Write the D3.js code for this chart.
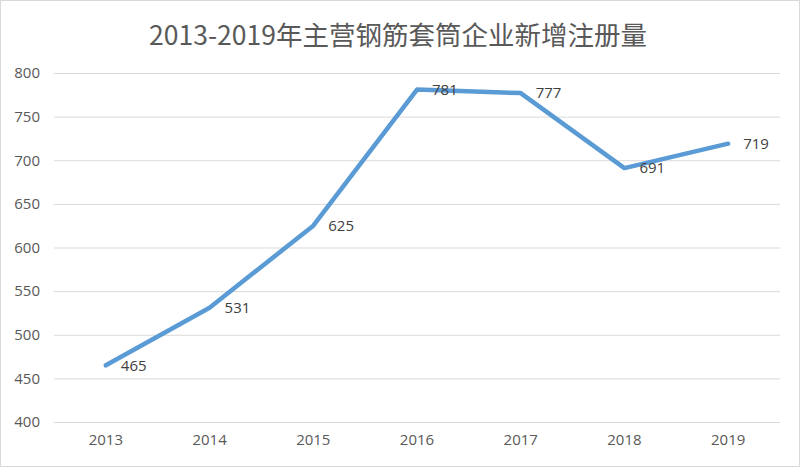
<!DOCTYPE html>
<html><head><meta charset="utf-8">
<script src="https://cdn.jsdelivr.net/npm/d3@7/dist/d3.min.js"></script>
<style>body{margin:0;background:#fff}svg{display:block}</style>
</head><body>
<svg id="c" width="800" height="467"></svg>
<script>
const title = "2013-2019年主营钢筋套筒企业新增注册量";
const years = ["2013","2014","2015","2016","2017","2018","2019"];
const values = [465,531,625,781,777,691,719];
const yTicks = [400,450,500,550,600,650,700,750,800];

const svg = d3.select("#c");
const W = 800, H = 467;
const m = {l:54, r:20, t:73, b:45};
svg.append("rect").attr("x",0.5).attr("y",0.5).attr("width",W-1).attr("height",H-1)
  .attr("fill","#fff").attr("stroke","#d9d9d9");

const x = d3.scaleBand().domain(years).range([m.l, W-m.r]);
const y = d3.scaleLinear().domain([400,800]).range([H-m.b, m.t]);

svg.append("text").attr("x",398).attr("y",45).attr("text-anchor","middle")
  .attr("font-family","'Noto Sans CJK SC', 'Open Sans', sans-serif").attr("font-size",26.5)
  .attr("fill","#595959").text(title);

const ya = svg.append("g").attr("transform",`translate(${m.l},0)`)
  .call(d3.axisLeft(y).tickValues(yTicks).tickSize(-(W-m.l-m.r)).tickPadding(14));
ya.select(".domain").remove();
ya.selectAll("line").attr("stroke","#d9d9d9");
ya.selectAll("text").attr("font-family","'Open Sans', sans-serif").attr("font-size",15).attr("fill","#595959");

const xa = svg.append("g").attr("transform",`translate(0,${H-m.b})`)
  .call(d3.axisBottom(x).tickSize(0).tickPadding(12));
xa.select(".domain").remove();
xa.selectAll("text").attr("font-family","'Open Sans', sans-serif").attr("font-size",15).attr("fill","#595959");

const line = d3.line().x((d,i)=>x(years[i])+x.bandwidth()/2).y(d=>y(d));
svg.append("path").datum(values).attr("d",line).attr("fill","none")
  .attr("stroke","#5b9bd5").attr("stroke-width",4.5).attr("stroke-linejoin","round").attr("stroke-linecap","round");

svg.append("g").selectAll("text").data(values).join("text")
  .attr("x",(d,i)=>x(years[i])+x.bandwidth()/2+15)
  .attr("y",d=>y(d)).attr("dy","0.35em")
  .attr("font-family","'Open Sans', sans-serif").attr("font-size",15).attr("fill","#404040")
  .text(d=>d);
</script>
</body></html>
